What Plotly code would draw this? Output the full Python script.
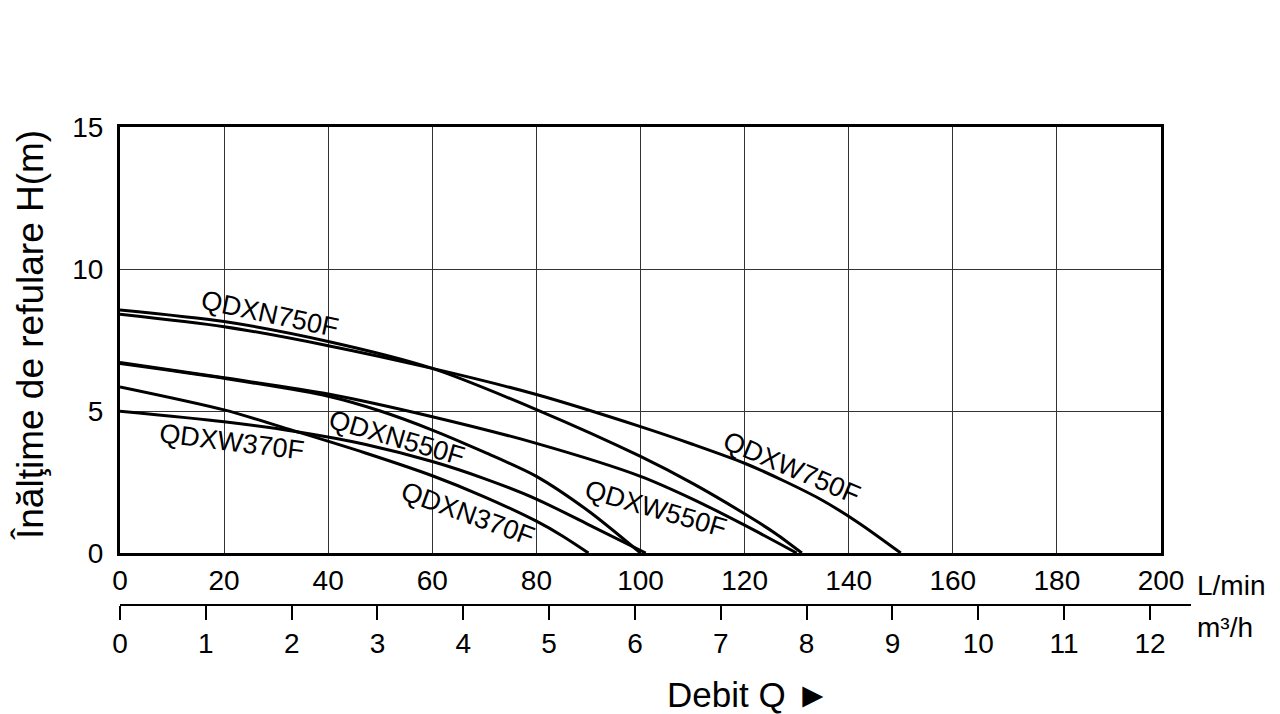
import plotly.graph_objects as go

# Flow (L/min) and head (m)
n750_q = [0, 20, 40, 60, 80, 100, 110, 120, 126, 131]
n750_h = [8.56, 8.15, 7.45, 6.5, 5.05, 3.4, 2.45, 1.38, 0.68, 0]
w750_q = [0, 20, 40, 60, 80, 100, 110, 120, 128, 135, 142, 150]
w750_h = [8.41, 7.97, 7.3, 6.5, 5.58, 4.45, 3.83, 3.16, 2.5, 1.85, 1.05, 0]
w550_q = [0, 20, 40, 60, 80, 100, 110, 120, 130]
w550_h = [6.71, 6.17, 5.6, 4.8, 3.86, 2.7, 1.9, 0.98, 0]
n550_q = [0, 20, 40, 50, 60, 70, 80, 90, 100]
n550_h = [6.67, 6.15, 5.52, 5.0, 4.33, 3.55, 2.7, 1.48, 0]
w370_q = [0, 20, 34, 47, 60, 70, 80, 90, 101]
w370_h = [4.99, 4.62, 4.27, 3.83, 3.22, 2.62, 1.9, 1.0, 0]
n370_q = [0, 20, 34, 47, 60, 70, 80, 85, 90]
n370_h = [5.85, 5.04, 4.27, 3.53, 2.72, 1.98, 1.12, 0.6, 0]

series = [
    ("QDXN750F", n750_q, n750_h),
    ("QDXW750F", w750_q, w750_h),
    ("QDXW550F", w550_q, w550_h),
    ("QDXN550F", n550_q, n550_h),
    ("QDXW370F", w370_q, w370_h),
    ("QDXN370F", n370_q, n370_h),
]

# label placement (L/min, m, angle)
label_names = ["QDXN750F", "QDXW370F", "QDXN550F", "QDXN370F", "QDXW550F", "QDXW750F"]
label_q = [28.8, 21.5, 53.2, 66.9, 103.0, 129.1]
label_h = [8.42, 3.91, 4.05, 1.37, 1.55, 2.99]
label_ang = [12, 7, 16, 20, 16, 23]

lpm_ticks = [0, 20, 40, 60, 80, 100, 120, 140, 160, 180, 200]
m3h_ticks = list(range(0, 13))
h_ticks = [0, 5, 10, 15]

FONT = "Liberation Sans, Arial, Helvetica, sans-serif"

fig = go.Figure()
for name, q, h in series:
    fig.add_trace(go.Scatter(x=q, y=h, mode="lines", name=name,
                             line=dict(color="black", width=3, shape="spline", smoothing=0.8),
                             showlegend=False, hoverinfo="skip"))
# invisible trace to carry the m3/h axis (on its own hidden y axis, so no extra grid)
fig.add_trace(go.Scatter(x=[0], y=[0], xaxis="x2", yaxis="y2", mode="markers",
                         marker=dict(opacity=0), showlegend=False, hoverinfo="skip"))

# page body has an 8px margin: figure coords = reference px - 8
W, H = 1272, 706
L, R, T, B = 112, 89, 119, 109
pw = W - L - R
ph = H - T - B
x_dom_end = 1041 / pw
y_dom_start = (605 - 553) / ph
m3_px = 85.83
x2_max = pw / m3_px

fig.update_layout(
    width=W, height=H,
    margin=dict(l=L, r=R, t=T, b=B),
    paper_bgcolor="white", plot_bgcolor="rgba(0,0,0,0)",
    font=dict(family=FONT, size=28, color="black"),
    xaxis=dict(domain=[0, x_dom_end], range=[0, 200], tickvals=lpm_ticks,
               showgrid=True, gridcolor="#333", gridwidth=1,
               showline=True, linecolor="black", linewidth=3, mirror=True,
               ticks="", ticklabelstandoff=0, zeroline=False, anchor="y",
               tickfont=dict(size=28)),
    yaxis=dict(domain=[y_dom_start, 1], range=[0, 15], tickvals=h_ticks,
               showgrid=True, gridcolor="#333", gridwidth=1,
               showline=True, linecolor="black", linewidth=3, mirror=True,
               ticks="", ticklabelstandoff=8, zeroline=False, anchor="x",
               tickfont=dict(size=28)),
    xaxis2=dict(domain=[0, 1], range=[0, x2_max], tickvals=m3h_ticks,
                anchor="free", position=0, side="bottom",
                showgrid=False, zeroline=False,
                showline=True, linecolor="black", linewidth=1.5,
                ticks="outside", ticklen=14, tickwidth=1.5, tickcolor="black",
                ticklabelstandoff=0, tickfont=dict(size=28)),
    yaxis2=dict(domain=[y_dom_start, 1], range=[0, 15], anchor="x2",
                visible=False, showgrid=False, zeroline=False),
)

for name, q, h, a in zip(label_names, label_q, label_h, label_ang):
    fig.add_annotation(x=q, y=h, xref="x", yref="y", text=name, showarrow=False,
                       textangle=a, font=dict(size=27, family=FONT, color="black"))

fig.add_annotation(x=(1195 - 120) / pw, y=(605 - 585) / ph, xref="paper", yref="paper",
                   text="L/min", showarrow=False, xanchor="left", yanchor="middle",
                   font=dict(size=28, family=FONT))
fig.add_annotation(x=(1195 - 120) / pw, y=(605 - 627) / ph, xref="paper", yref="paper",
                   text="m³/h", showarrow=False, xanchor="left", yanchor="middle",
                   font=dict(size=28, family=FONT))
fig.add_annotation(x=(748 - 120) / pw, y=(605 - 694) / ph, xref="paper", yref="paper",
                   text="Debit Q ►", showarrow=False, xanchor="center", yanchor="middle",
                   font=dict(size=35, family=FONT))
fig.add_annotation(x=(30 - 120) / pw, y=(605 - 335) / ph, xref="paper", yref="paper",
                   text="Înălţime de refulare H(m)", showarrow=False, textangle=-90,
                   xanchor="center", yanchor="middle",
                   font=dict(size=37, family=FONT))

fig.write_html("out.html")
